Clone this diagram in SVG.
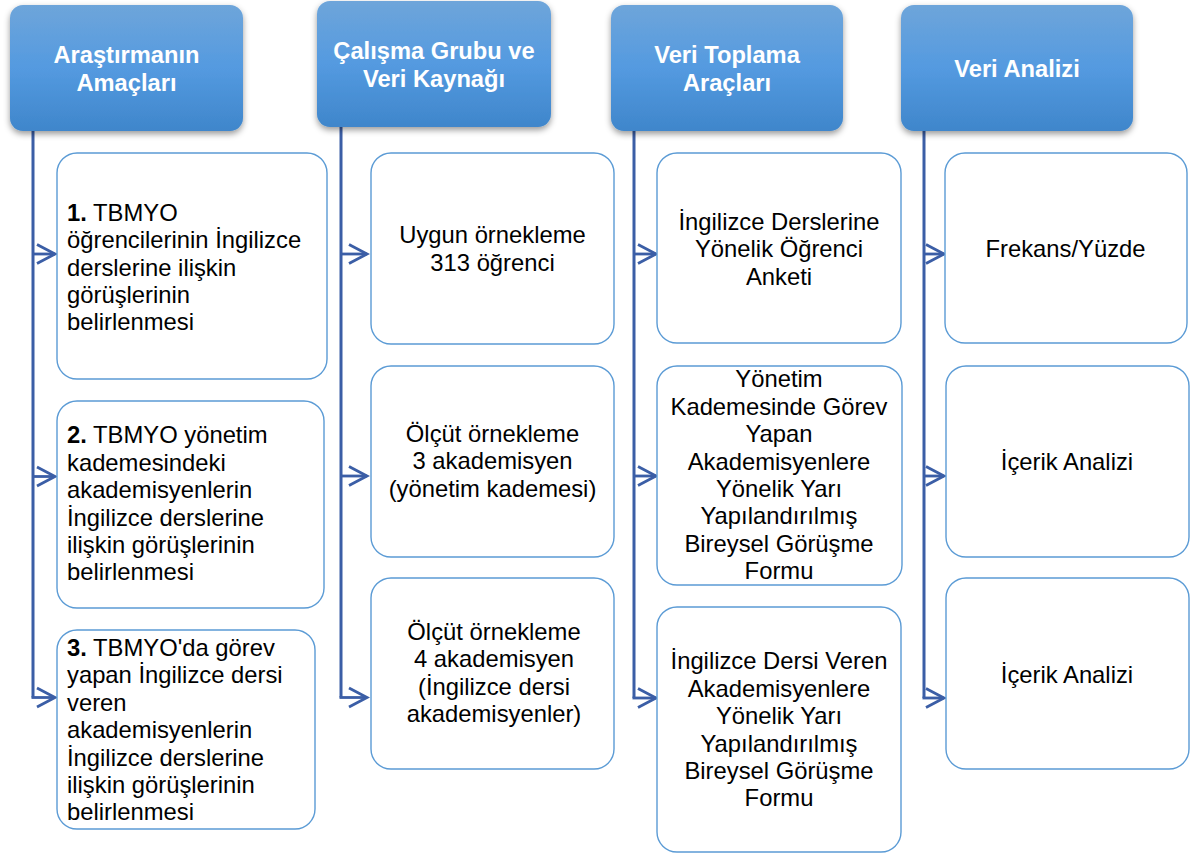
<svg xmlns="http://www.w3.org/2000/svg" width="1194" height="854" viewBox="0 0 1194 854">
<defs>
<linearGradient id="hg" x1="0" y1="0" x2="0" y2="1">
<stop offset="0" stop-color="#6EA5DA"/>
<stop offset="0.5" stop-color="#549AE0"/>
<stop offset="1" stop-color="#3F86CB"/>
</linearGradient>
<filter id="sh" x="-10%" y="-10%" width="120%" height="130%">
<feDropShadow dx="0" dy="3" stdDeviation="3" flood-color="#000" flood-opacity="0.4"/>
</filter>
<marker id="ar" markerUnits="userSpaceOnUse" markerWidth="24" markerHeight="24" viewBox="-20 -12 24 24" refX="0" refY="0" orient="auto">
<path d="M-18,-9.5 L0,0 L-18,9.5" fill="none" stroke="#3B5EA6" stroke-width="2.8"/>
</marker>
<style>
.hdr{fill:url(#hg);filter:url(#sh)}
.ht{font-family:"Liberation Sans",Arial,sans-serif;font-weight:bold;font-size:23.7px;fill:#fff;text-anchor:middle}
.box{fill:#fff;stroke:#5B9BD5;stroke-width:1.4}
.bt{font-family:"Liberation Sans",Arial,sans-serif;font-size:23.8px;fill:#000}
.c{text-anchor:middle}
.b{font-weight:bold}
.ln{fill:none;stroke:#3B5EA6;stroke-width:3}
.ar{fill:none;stroke:#3B5EA6;stroke-width:2.8;marker-end:url(#ar)}
</style>
</defs>
<rect width="1194" height="854" fill="#fff"/>

<g id="connectors">
<path class="ln" d="M33,131 V697.5"/>
<path class="ar" d="M33,254 H55"/>
<path class="ar" d="M33,476.5 H55"/>
<path class="ar" d="M31.5,697.5 H55"/>
<path class="ln" d="M341,127 V697.5"/>
<path class="ar" d="M341,254 H367"/>
<path class="ar" d="M341,476 H367"/>
<path class="ar" d="M339.5,697.5 H367"/>
<path class="ln" d="M634,131 V698"/>
<path class="ar" d="M634,254 H656"/>
<path class="ar" d="M634,476 H656"/>
<path class="ar" d="M632.5,698 H656"/>
<path class="ln" d="M924,131 V698"/>
<path class="ar" d="M924,254 H944"/>
<path class="ar" d="M924,476 H944"/>
<path class="ar" d="M922.5,698 H944"/>
</g>

<g id="h1"><rect class="hdr" x="10" y="5" width="233" height="126" rx="13"/>
<text class="ht" x="126.5" y="63.3">Araştırmanın</text>
<text class="ht" x="126.5" y="90.7">Amaçları</text></g>
<g id="h2"><rect class="hdr" x="317" y="1" width="234" height="126" rx="13"/>
<text class="ht" x="434" y="59.3">Çalışma Grubu ve</text>
<text class="ht" x="434" y="87.3">Veri Kaynağı</text></g>
<g id="h3"><rect class="hdr" x="611" y="5" width="232" height="126" rx="13"/>
<text class="ht" x="727" y="63.3">Veri Toplama</text>
<text class="ht" x="727" y="90.7">Araçları</text></g>
<g id="h4"><rect class="hdr" x="901" y="5" width="232" height="126" rx="13"/>
<text class="ht" x="1017" y="76.7">Veri Analizi</text></g>

<g id="a1"><rect class="box" x="57" y="153" width="270" height="226" rx="20"/>
<text class="bt" x="67" y="220.7"><tspan class="b">1.</tspan> TBMYO</text>
<text class="bt" x="67" y="248.1">öğrencilerinin İngilizce</text>
<text class="bt" x="67" y="275.5">derslerine ilişkin</text>
<text class="bt" x="67" y="302.9">görüşlerinin</text>
<text class="bt" x="67" y="330.3">belirlenmesi</text></g>
<g id="a2"><rect class="box" x="57" y="401" width="267" height="207" rx="20"/>
<text class="bt" x="67" y="443.3"><tspan class="b">2.</tspan> TBMYO yönetim</text>
<text class="bt" x="67" y="470.7">kademesindeki</text>
<text class="bt" x="67" y="498.1">akademisyenlerin</text>
<text class="bt" x="67" y="525.5">İngilizce derslerine</text>
<text class="bt" x="67" y="552.9">ilişkin görüşlerinin</text>
<text class="bt" x="67" y="580.3">belirlenmesi</text></g>
<g id="a3"><rect class="box" x="57" y="630" width="258" height="199" rx="20"/>
<text class="bt" x="67" y="656"><tspan class="b">3.</tspan> TBMYO'da görev</text>
<text class="bt" x="67" y="683.4">yapan İngilizce dersi</text>
<text class="bt" x="67" y="710.8">veren</text>
<text class="bt" x="67" y="738.2">akademisyenlerin</text>
<text class="bt" x="67" y="765.6">İngilizce derslerine</text>
<text class="bt" x="67" y="793">ilişkin görüşlerinin</text>
<text class="bt" x="67" y="820.4">belirlenmesi</text></g>

<g id="b1"><rect class="box" x="371" y="153" width="243" height="191" rx="20"/>
<text class="bt c" x="492.5" y="243.3">Uygun örnekleme</text>
<text class="bt c" x="492.5" y="270.7">313 öğrenci</text></g>
<g id="b2"><rect class="box" x="371" y="366" width="243" height="191" rx="20"/>
<text class="bt c" x="492.5" y="441.7">Ölçüt örnekleme</text>
<text class="bt c" x="492.5" y="469.1">3 akademisyen</text>
<text class="bt c" x="492.5" y="496.5">(yönetim kademesi)</text></g>
<g id="b3"><rect class="box" x="371" y="578" width="243" height="191" rx="20"/>
<text class="bt c" x="494" y="640">Ölçüt örnekleme</text>
<text class="bt c" x="494" y="667.4">4 akademisyen</text>
<text class="bt c" x="494" y="694.8">(İngilizce dersi</text>
<text class="bt c" x="494" y="722.2">akademisyenler)</text></g>

<g id="c1"><rect class="box" x="657" y="153" width="244" height="190" rx="20"/>
<text class="bt c" x="779" y="230">İngilizce Derslerine</text>
<text class="bt c" x="779" y="257.4">Yönelik Öğrenci</text>
<text class="bt c" x="779" y="284.8">Anketi</text></g>
<g id="c2"><rect class="box" x="657" y="366" width="245" height="219" rx="20"/>
<text class="bt c" x="779" y="387.3">Yönetim</text>
<text class="bt c" x="779" y="414.7">Kademesinde Görev</text>
<text class="bt c" x="779" y="442.1">Yapan</text>
<text class="bt c" x="779" y="469.5">Akademisyenlere</text>
<text class="bt c" x="779" y="496.9">Yönelik Yarı</text>
<text class="bt c" x="779" y="524.3">Yapılandırılmış</text>
<text class="bt c" x="779" y="551.7">Bireysel Görüşme</text>
<text class="bt c" x="779" y="579.1">Formu</text></g>
<g id="c3"><rect class="box" x="657" y="607" width="244" height="245" rx="20"/>
<text class="bt c" x="779" y="669.3">İngilizce Dersi Veren</text>
<text class="bt c" x="779" y="696.7">Akademisyenlere</text>
<text class="bt c" x="779" y="724.1">Yönelik Yarı</text>
<text class="bt c" x="779" y="751.5">Yapılandırılmış</text>
<text class="bt c" x="779" y="778.9">Bireysel Görüşme</text>
<text class="bt c" x="779" y="806.3">Formu</text></g>

<g id="d1"><rect class="box" x="945" y="153" width="242" height="190" rx="20"/>
<text class="bt c" x="1065.5" y="256.7">Frekans/Yüzde</text></g>
<g id="d2"><rect class="box" x="946" y="366" width="243" height="191" rx="20"/>
<text class="bt c" x="1067" y="470">İçerik Analizi</text></g>
<g id="d3"><rect class="box" x="946" y="578" width="243" height="191" rx="20"/>
<text class="bt c" x="1067" y="682.7">İçerik Analizi</text></g>
</svg>
